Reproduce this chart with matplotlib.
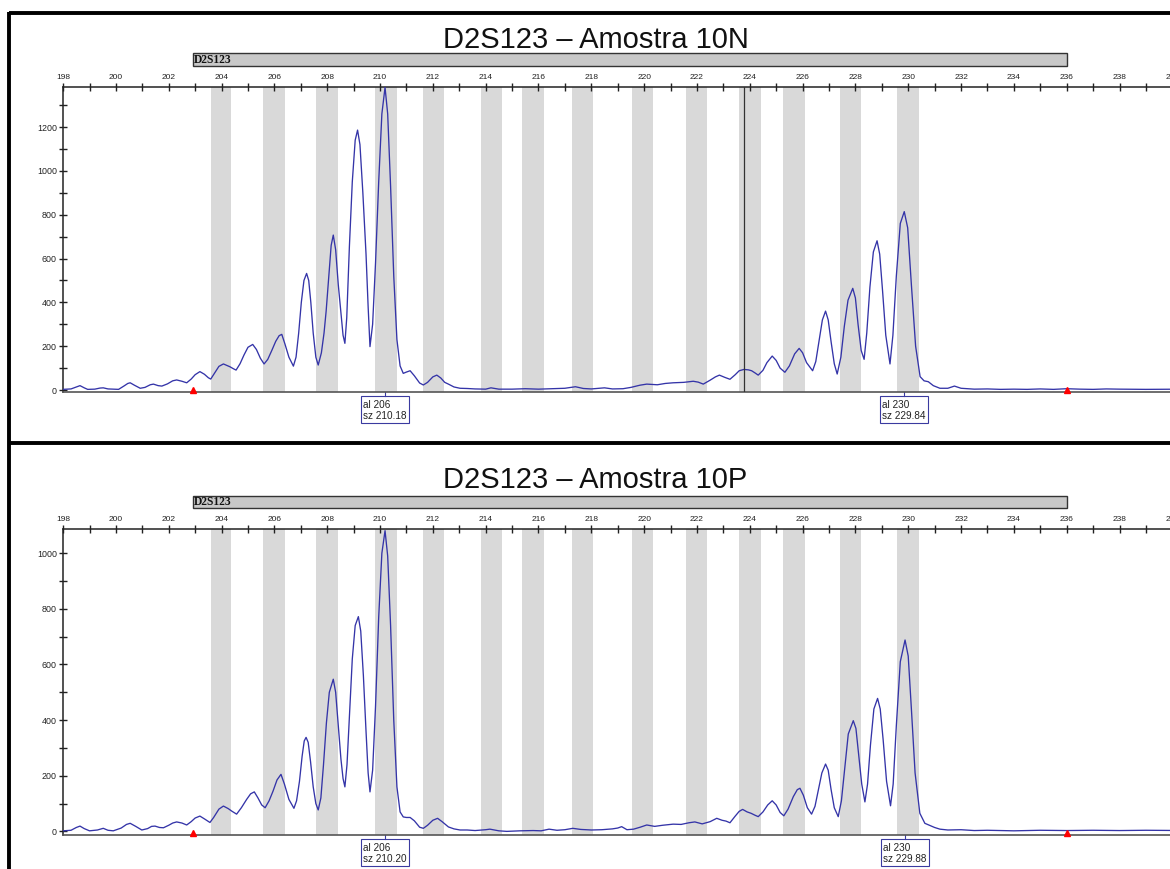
"""Electropherogram D2S123, samples 10N / 10P (two stacked panels)."""
import numpy as np
import matplotlib
matplotlib.use("Agg")
import matplotlib.pyplot as plt
from matplotlib.patches import Rectangle
from matplotlib.lines import Line2D
from matplotlib.ticker import MultipleLocator
from matplotlib.transforms import blended_transform_factory as blend

plt.rcParams["font.family"] = ["Liberation Sans", "DejaVu Sans"]

W, H = 1170, 869
PX_PER_BP = 26.41
X0_PX = 63.1

# allele bins (bp)
BIN_LO = [203.59, 205.57, 207.59, 209.81, 211.62, 213.82, 215.38, 217.26,
          219.53, 221.57, 223.59, 225.25, 227.43, 229.56]
BIN_HI = [204.36, 206.39, 208.41, 210.63, 212.43, 214.62, 216.20, 218.08,
          220.32, 222.39, 224.41, 226.08, 228.21, 230.40]

MARKER_NAME = "D2S123"
MARKER_RANGE = (202.9, 236.0)
TITLES = ["D2S123 \u2013 Amostra 10N", "D2S123 \u2013 Amostra 10P"]

# trace vertices (bp, RFU)
TOP_TRACE = [
    (198.0, 3), (198.3, 5), (198.5, 14), (198.64, 20), (198.8, 10), (198.93, 3),
    (199.2, 4), (199.4, 9), (199.52, 10), (199.7, 5), (200.1, 3), (200.3, 18),
    (200.45, 30), (200.54, 33), (200.7, 22), (200.92, 8), (201.1, 12), (201.3, 24),
    (201.42, 27), (201.6, 20), (201.74, 18), (201.95, 28), (202.15, 42), (202.3, 46),
    (202.5, 40), (202.68, 33), (202.85, 50), (203.0, 70), (203.18, 84), (203.35, 72),
    (203.5, 56), (203.59, 50), (203.75, 80), (203.9, 108), (204.07, 119), (204.2, 112),
    (204.32, 106), (204.45, 97), (204.55, 91), (204.7, 120), (204.85, 160), (205.0, 195),
    (205.18, 208), (205.32, 185), (205.47, 145), (205.61, 119), (205.75, 140), (205.9, 180),
    (206.05, 222), (206.18, 248), (206.28, 254), (206.4, 210), (206.55, 150), (206.72, 109),
    (206.82, 150), (206.92, 260), (207.02, 400), (207.12, 500), (207.22, 532), (207.3, 500),
    (207.38, 400), (207.47, 260), (207.57, 150), (207.66, 114), (207.78, 170), (207.88, 260),
    (207.96, 360), (208.06, 520), (208.15, 660), (208.23, 707), (208.32, 640), (208.42, 480),
    (208.52, 350), (208.6, 250), (208.67, 213), (208.74, 330), (208.84, 654), (208.95, 950),
    (209.06, 1140), (209.15, 1186), (209.24, 1120), (209.35, 900), (209.47, 620), (209.55, 380),
    (209.62, 198), (209.72, 300), (209.83, 580), (209.95, 950), (210.07, 1260), (210.19, 1381),
    (210.29, 1260), (210.4, 930), (210.52, 520), (210.64, 230), (210.76, 110), (210.88, 76),
    (211.0, 82), (211.14, 88), (211.3, 65), (211.5, 32), (211.64, 23), (211.8, 35),
    (212.0, 60), (212.15, 68), (212.3, 55), (212.45, 35), (212.59, 27), (212.8, 14),
    (213.03, 8), (213.3, 7), (213.6, 5), (214.0, 4), (214.2, 10), (214.5, 4),
    (215.0, 4), (215.5, 6), (216.0, 4), (216.5, 6), (217.0, 8), (217.4, 15),
    (217.7, 7), (218.0, 5), (218.5, 10), (218.8, 5), (219.2, 6), (219.5, 12),
    (219.84, 22), (220.1, 27), (220.5, 24), (220.8, 30), (221.1, 33), (221.5, 35),
    (221.86, 40), (222.05, 36), (222.24, 27), (222.5, 45), (222.7, 60), (222.85, 68),
    (223.05, 58), (223.25, 49), (223.45, 70), (223.6, 88), (223.78, 94), (223.95, 92),
    (224.07, 88), (224.2, 78), (224.32, 68), (224.5, 90), (224.65, 125), (224.85, 155),
    (225.0, 135), (225.15, 100), (225.33, 81), (225.5, 110), (225.7, 165), (225.87, 190),
    (226.0, 170), (226.15, 125), (226.38, 88), (226.5, 130), (226.62, 220), (226.75, 320),
    (226.87, 360), (226.97, 320), (227.08, 220), (227.2, 120), (227.31, 73), (227.45, 150),
    (227.58, 290), (227.72, 410), (227.9, 464), (228.0, 420), (228.1, 300), (228.22, 180),
    (228.33, 140), (228.43, 260), (228.55, 470), (228.68, 630), (228.82, 681), (228.92, 620),
    (229.03, 450), (229.15, 250), (229.31, 119), (229.42, 250), (229.55, 520), (229.7, 760),
    (229.85, 814), (229.98, 740), (230.12, 480), (230.28, 200), (230.45, 61), (230.6, 42),
    (230.76, 38), (230.95, 20), (231.2, 8), (231.5, 8), (231.75, 18), (232.0, 8),
    (232.5, 4), (233.0, 5), (233.5, 3), (234.0, 4), (234.5, 3), (235.0, 5),
    (235.5, 3), (236.0, 6), (236.5, 4), (237.0, 3), (237.5, 5), (238.0, 4),
    (239.0, 3), (240.5, 4),
]

BOT_TRACE = [
    (198.0, 2), (198.3, 4), (198.5, 14), (198.64, 19), (198.8, 10), (199.0, 2),
    (199.3, 5), (199.52, 11), (199.7, 4), (199.9, 2), (200.2, 12), (200.4, 25),
    (200.54, 29), (200.75, 18), (200.98, 5), (201.2, 10), (201.35, 18), (201.48, 19),
    (201.65, 14), (201.8, 13), (202.0, 22), (202.15, 30), (202.3, 34), (202.5, 30),
    (202.68, 23), (202.85, 35), (203.0, 48), (203.18, 55), (203.35, 45), (203.56, 32),
    (203.7, 50), (203.9, 80), (204.07, 91), (204.25, 82), (204.4, 72), (204.57, 62),
    (204.75, 85), (204.95, 115), (205.1, 135), (205.24, 142), (205.38, 120), (205.52, 95),
    (205.65, 85), (205.8, 110), (205.95, 145), (206.1, 185), (206.25, 205), (206.38, 170),
    (206.55, 115), (206.74, 83), (206.84, 110), (206.95, 180), (207.05, 270), (207.13, 325),
    (207.2, 338), (207.28, 320), (207.37, 250), (207.47, 160), (207.57, 100), (207.66, 77),
    (207.76, 120), (207.86, 240), (207.97, 390), (208.08, 500), (208.23, 547), (208.32, 500),
    (208.42, 380), (208.52, 260), (208.6, 190), (208.67, 160), (208.75, 240), (208.85, 430),
    (208.95, 620), (209.06, 740), (209.18, 772), (209.27, 720), (209.37, 560), (209.47, 360),
    (209.55, 210), (209.62, 142), (209.72, 220), (209.83, 450), (209.95, 770), (210.07, 1000),
    (210.19, 1081), (210.29, 990), (210.4, 740), (210.52, 400), (210.64, 160), (210.76, 70),
    (210.88, 52), (211.0, 50), (211.14, 50), (211.3, 38), (211.5, 15), (211.64, 11),
    (211.8, 22), (212.0, 40), (212.18, 47), (212.35, 35), (212.59, 16), (212.8, 9),
    (213.03, 5), (213.3, 5), (213.6, 3), (214.0, 6), (214.16, 8), (214.5, 2),
    (214.8, 0), (215.3, 2), (215.8, 3), (216.1, 2), (216.4, 8), (216.7, 4),
    (217.0, 6), (217.3, 11), (217.6, 7), (218.0, 5), (218.4, 6), (218.8, 9),
    (219.0, 12), (219.15, 17), (219.35, 6), (219.6, 8), (219.85, 15), (220.1, 23),
    (220.4, 18), (220.7, 22), (221.1, 26), (221.4, 25), (221.7, 31), (221.92, 34),
    (222.2, 27), (222.5, 35), (222.75, 47), (222.95, 40), (223.1, 37), (223.25, 31),
    (223.45, 55), (223.6, 72), (223.73, 79), (223.9, 70), (224.05, 65), (224.2, 58),
    (224.32, 53), (224.5, 70), (224.68, 95), (224.85, 110), (225.0, 95), (225.15, 68),
    (225.29, 56), (225.45, 80), (225.65, 125), (225.8, 150), (225.9, 155), (226.03, 130),
    (226.18, 85), (226.34, 62), (226.47, 90), (226.6, 150), (226.73, 210), (226.87, 242),
    (226.97, 220), (227.08, 150), (227.2, 85), (227.35, 53), (227.47, 110), (227.6, 230),
    (227.73, 350), (227.92, 398), (228.02, 370), (228.12, 280), (228.24, 170), (228.36, 106),
    (228.46, 170), (228.57, 310), (228.7, 440), (228.84, 478), (228.94, 440), (229.05, 330),
    (229.18, 180), (229.33, 92), (229.43, 170), (229.55, 380), (229.7, 610), (229.88, 688),
    (230.0, 630), (230.12, 440), (230.26, 210), (230.44, 65), (230.63, 29), (230.8, 22),
    (231.0, 14), (231.2, 8), (231.5, 5), (232.0, 6), (232.5, 3), (233.0, 4),
    (234.0, 2), (235.0, 4), (236.0, 3), (237.0, 4), (238.0, 3), (239.0, 4),
    (240.5, 3),
]

# called peaks: (bp position, allele, size label)
TOP_CALLS = [(210.19, "206", "210.18"), (229.85, "230", "229.84")]
BOT_CALLS = [(210.19, "206", "210.20"), (229.88, "230", "229.88")]
CURSOR_BP = 223.78

TRACE_C = "#3434a8"
BIN_C = "#d9d9d9"


def fx(px):
    return px / W


def fy(py):
    return 1 - py / H


def panel(trace, title, calls, ax_top, ax_bot, ylim, title_base, bar_top, cursor=None):
    hpx = ax_bot - ax_top
    ax = fig.add_axes([fx(X0_PX), fy(ax_bot), (240.5 - 198) * PX_PER_BP / W, hpx / H])
    for lo, hi in zip(BIN_LO, BIN_HI):
        ax.axvspan(lo, hi, color=BIN_C, lw=0, zorder=0)
    t = np.array(trace, dtype=float)
    ax.plot(t[:, 0], t[:, 1], color=TRACE_C, lw=0.95, zorder=3)
    if cursor is not None:
        ax.axvline(cursor, color="#333333", lw=0.9, zorder=4)
    ax.set_xlim(198, 240.5)
    ax.set_ylim(*ylim)

    ax.xaxis.tick_top()
    ax.xaxis.set_major_locator(MultipleLocator(2))
    ax.xaxis.set_minor_locator(MultipleLocator(1))
    ax.yaxis.set_major_locator(MultipleLocator(200))
    ax.yaxis.set_minor_locator(MultipleLocator(100))
    ax.tick_params(axis="x", which="both", direction="inout", length=6, width=1,
                   top=True, bottom=False, labeltop=True, labelbottom=False,
                   labelsize=6, pad=1, colors="#222222")
    ax.tick_params(axis="y", which="both", direction="inout", length=6, width=1,
                   labelsize=6.4, pad=1.5, colors="#222222")
    ax.spines["right"].set_visible(False)
    for s in ("top", "left"):
        ax.spines[s].set_linewidth(1.1)
        ax.spines[s].set_color("#222222")
    ax.spines["bottom"].set_linewidth(1.2)
    ax.spines["bottom"].set_color("#555555")

    tr_ax = blend(ax.transData, ax.transAxes)
    tr_fig = blend(ax.transData, fig.transFigure)

    # marker bar
    ax.add_patch(Rectangle((MARKER_RANGE[0], fy(bar_top + 12.7)), MARKER_RANGE[1] - MARKER_RANGE[0],
                           12.7 / H, transform=tr_fig, clip_on=False, fc="#c8c8c8",
                           ec="#333333", lw=1))
    ax.text(MARKER_RANGE[0] + 0.06, fy(bar_top + 6.6), MARKER_NAME, transform=tr_fig,
            ha="left", va="center", fontsize=8.3, fontweight="bold",
            family=["Liberation Serif", "DejaVu Serif"], color="#111111")

    # red range markers on the baseline
    ax.plot(MARKER_RANGE, [2.5 / hpx] * 2, transform=tr_ax, ls="none", marker="^",
            ms=5, color="red", mec="red", clip_on=False, zorder=6)

    # allele call boxes
    for pk, al, sz in calls:
        ax.plot([pk, pk], [0, -4 / hpx], transform=tr_ax, color="#3a3aa0", lw=0.8,
                clip_on=False)
        ax.add_patch(Rectangle((pk - 0.9, -30.5 / hpx), 1.8, 26.5 / hpx, transform=tr_ax,
                               clip_on=False, fc="white", ec="#3a3aa0", lw=0.8))
        ax.text(pk - 0.83, -13 / hpx, "al " + al, transform=tr_ax, ha="left",
                va="center", fontsize=7.2, color="#222222")
        ax.text(pk - 0.83, -24 / hpx, "sz " + sz, transform=tr_ax, ha="left",
                va="center", fontsize=7.2, color="#222222")

    fig.text(fx(595.5), fy(title_base), title, ha="center", va="baseline",
             fontsize=21, color="#111111")
    return ax


fig = plt.figure(figsize=(W / 100, H / 100), dpi=100)
fig.patch.set_facecolor("white")

panel(TOP_TRACE, TITLES[0], TOP_CALLS, 86.7, 392, (-9, 1384), 48.5, 53.3, cursor=CURSOR_BP)
panel(BOT_TRACE, TITLES[1], BOT_CALLS, 529, 835, (-13, 1087), 488.5, 495.7)

# frame
for xs, ys in [((fx(9), fx(9)), (fy(12), 0)), ((fx(9), 1), (fy(12.5), fy(12.5))),
               ((fx(9), 1), (fy(443), fy(443)))]:
    fig.add_artist(Line2D(xs, ys, color="black", lw=2.8, solid_capstyle="butt"))

fig.savefig("out.png", dpi=100)
